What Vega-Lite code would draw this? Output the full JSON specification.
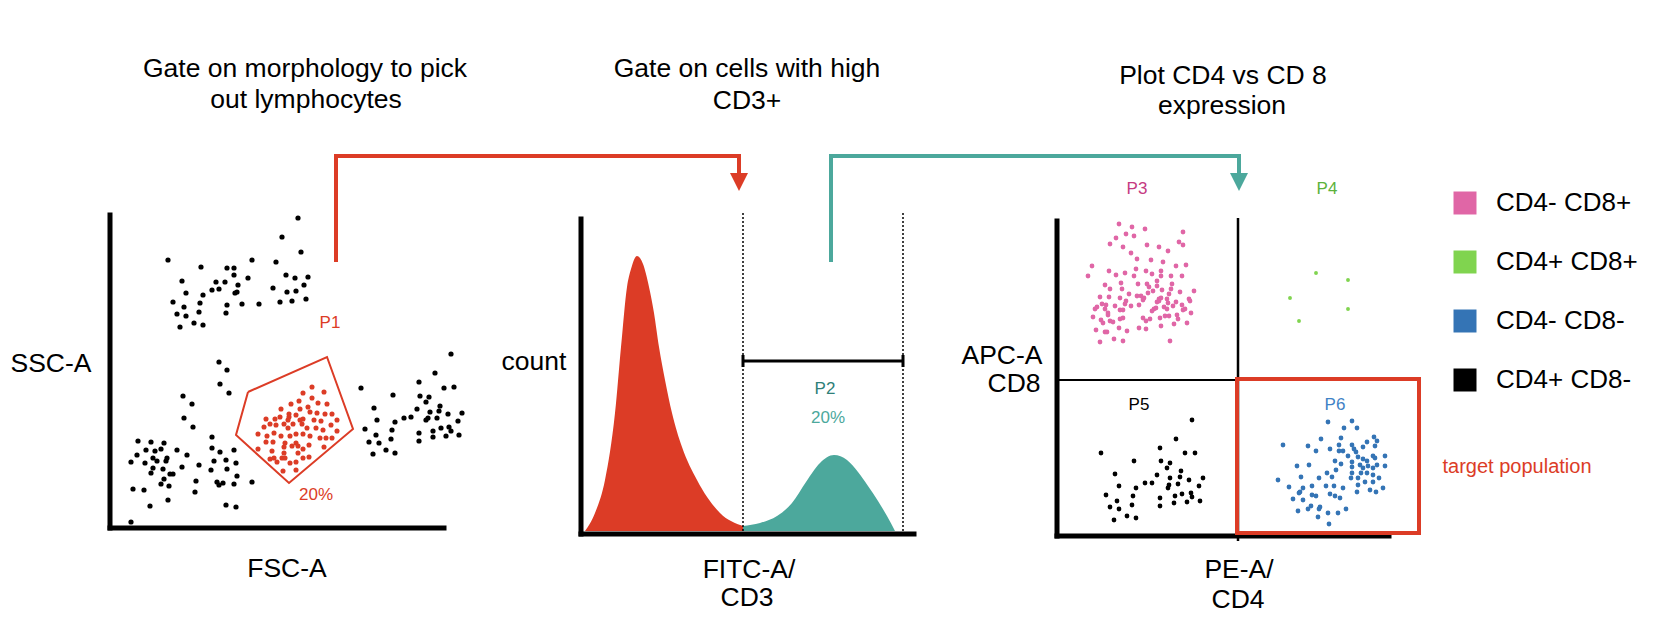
{
"$schema": "https://vega.github.io/schema/vega-lite/v6.json",
"width": 1658, "height": 626, "padding": 0,
"autosize": {"type": "fit", "contains": "padding"},
"config": {"view": {"stroke": null}, "font": "Liberation Sans",
  "legend": {"orient": "none", "legendX": 1452, "legendY": 190, "title": null, "symbolType": "square", "symbolSize": 529, "symbolStrokeWidth": 0, "symbolOpacity": 1, "labelFontSize": 26, "labelFont": "Liberation Sans", "labelColor": "#000000", "rowPadding": 33, "labelOffset": 18, "padding": 0}},
"encoding": {
  "x": {"field": "x", "type": "quantitative", "scale": {"domain": [0, 1658], "nice": false, "zero": false}, "axis": null},
  "y": {"field": "y", "type": "quantitative", "scale": {"domain": [0, 626], "reverse": true, "nice": false, "zero": false}, "axis": null}
},
"layer": [
{"data": {"values": [
 {"x":585,"y":531},{"x":595,"y":513},{"x":605,"y":480},{"x":615,"y":413},{"x":621,"y":347},{"x":627,"y":287},{"x":631,"y":269},{"x":637,"y":256},{"x":643,"y":264},{"x":649,"y":287},{"x":654,"y":313},{"x":659,"y":347},{"x":665,"y":380},{"x":672,"y":413},{"x":682,"y":447},{"x":697,"y":480},{"x":720,"y":513},{"x":743,"y":526}]},
 "mark": {"type": "area", "color": "#dc3c26", "interpolate": "monotone"},
 "encoding": {"y2": {"datum": 531}}},
{"data": {"values": [
 {"x":743,"y":526},{"x":760,"y":523},{"x":777,"y":516},{"x":792,"y":503},{"x":806,"y":482},{"x":820,"y":463},{"x":834,"y":455},{"x":847,"y":460},{"x":858,"y":472},{"x":868,"y":486},{"x":878,"y":501},{"x":887,"y":516},{"x":895,"y":531}]},
 "mark": {"type": "area", "color": "#4ca89c", "interpolate": "monotone"},
 "encoding": {"y2": {"datum": 531}}},
{"data": {"values": [
 {"x":110,"y":215,"x2":110,"y2":528},{"x":110,"y":528,"x2":444,"y2":528},
 {"x":581,"y":219,"x2":581,"y2":534},{"x":581,"y":534,"x2":914,"y2":534},
 {"x":1057,"y":221,"x2":1057,"y2":536},{"x":1057,"y":536,"x2":1389,"y2":536}]},
 "mark": {"type": "rule", "color": "#000000", "strokeWidth": 5, "strokeCap": "square"},
 "encoding": {"x2": {"field": "x2"}, "y2": {"field": "y2"}}},
{"data": {"values": [
 {"x":743,"y":213,"x2":743,"y2":532},{"x":903,"y":213,"x2":903,"y2":532}]},
 "mark": {"type": "rule", "color": "#000000", "strokeWidth": 1.5, "strokeDash": [2, 2]},
 "encoding": {"x2": {"field": "x2"}, "y2": {"field": "y2"}}},
{"data": {"values": [
 {"x":743,"y":361,"x2":903,"y2":361},{"x":743,"y":355,"x2":743,"y2":367},{"x":903,"y":355,"x2":903,"y2":367}]},
 "mark": {"type": "rule", "color": "#000000", "strokeWidth": 3},
 "encoding": {"x2": {"field": "x2"}, "y2": {"field": "y2"}}},
{"data": {"values": [
 {"x":1238,"y":218,"x2":1238,"y2":541}]},
 "mark": {"type": "rule", "color": "#000000", "strokeWidth": 2.5},
 "encoding": {"x2": {"field": "x2"}, "y2": {"field": "y2"}}},
{"data": {"values": [
 {"x":1057,"y":380,"x2":1238,"y2":380}]},
 "mark": {"type": "rule", "color": "#000000", "strokeWidth": 2},
 "encoding": {"x2": {"field": "x2"}, "y2": {"field": "y2"}}},
{"data": {"values": [{"x":1237,"y":379,"x2":1419,"y2":533}]},
 "mark": {"type": "rect", "filled": false, "color": "#dc3c26", "strokeWidth": 4},
 "encoding": {"x2": {"field": "x2"}, "y2": {"field": "y2"}}},
{"data": {"values": [
 {"x":248,"y":392,"o":1},{"x":327,"y":357,"o":2},{"x":353,"y":429,"o":3},{"x":289,"y":483,"o":4},{"x":236,"y":435,"o":5},{"x":248,"y":392,"o":6}]},
 "mark": {"type": "line", "color": "#dc3c26", "strokeWidth": 2, "strokeJoin": "miter"},
 "encoding": {"order": {"field": "o", "type": "quantitative"}}},
{"data": {"values": [
 {"x":336,"y":262,"o":1},{"x":336,"y":156,"o":2},{"x":739,"y":156,"o":3},{"x":739,"y":175,"o":4}]},
 "mark": {"type": "line", "color": "#dc3c26", "strokeWidth": 4, "strokeJoin": "miter"},
 "encoding": {"order": {"field": "o", "type": "quantitative"}}},
{"data": {"values": [
 {"x":831,"y":262,"o":1},{"x":831,"y":156,"o":2},{"x":1239,"y":156,"o":3},{"x":1239,"y":175,"o":4}]},
 "mark": {"type": "line", "color": "#4ca89c", "strokeWidth": 4, "strokeJoin": "miter"},
 "encoding": {"order": {"field": "o", "type": "quantitative"}}},
{"data": {"values": [{"x":739,"y":182}]},
 "mark": {"type": "point", "shape": "M-1,-1L1,-1L0,1Z", "size": 324, "filled": true, "opacity": 1, "color": "#dc3c26"}},
{"data": {"values": [{"x":1239,"y":182}]},
 "mark": {"type": "point", "shape": "M-1,-1L1,-1L0,1Z", "size": 324, "filled": true, "opacity": 1, "color": "#4ca89c"}},
{"data": {"values": [
 {"x":168,"y":260},{"x":201,"y":267},{"x":182,"y":281},{"x":186,"y":293},{"x":173,"y":302},{"x":184,"y":307},{"x":177,"y":314},{"x":186,"y":316},{"x":180,"y":327},{"x":194,"y":323},{"x":203,"y":325},{"x":199,"y":312},{"x":200,"y":303},{"x":203,"y":295},{"x":212,"y":290},{"x":216,"y":282},{"x":219,"y":289},{"x":225,"y":282},{"x":227,"y":268},{"x":234,"y":268},{"x":234,"y":275},{"x":238,"y":285},{"x":237,"y":292},{"x":235,"y":293},{"x":227,"y":305},{"x":226,"y":313},{"x":242,"y":304},{"x":248,"y":278},{"x":252,"y":260},{"x":259,"y":304},{"x":276,"y":262},{"x":273,"y":288},{"x":280,"y":302},{"x":286,"y":275},{"x":287,"y":292},{"x":292,"y":301},{"x":295,"y":278},{"x":296,"y":291},{"x":304,"y":285},{"x":306,"y":299},{"x":308,"y":277},{"x":282,"y":237},{"x":298,"y":218},{"x":301,"y":252},
 {"x":138,"y":441},{"x":151,"y":442},{"x":164,"y":443},{"x":146,"y":450},{"x":155,"y":451},{"x":161,"y":449},{"x":177,"y":450},{"x":137,"y":455},{"x":187,"y":455},{"x":131,"y":462},{"x":145,"y":463},{"x":153,"y":458},{"x":157,"y":461},{"x":167,"y":458},{"x":166,"y":461},{"x":153,"y":468},{"x":163,"y":469},{"x":182,"y":467},{"x":151,"y":473},{"x":173,"y":474},{"x":170,"y":474},{"x":164,"y":479},{"x":161,"y":484},{"x":169,"y":486},{"x":133,"y":489},{"x":144,"y":490},{"x":168,"y":500},{"x":150,"y":506},{"x":131,"y":522},
 {"x":183,"y":396},{"x":192,"y":404},{"x":184,"y":418},{"x":193,"y":427},{"x":219,"y":362},{"x":227,"y":370},{"x":220,"y":384},{"x":229,"y":393},{"x":212,"y":437},{"x":212,"y":448},{"x":220,"y":452},{"x":234,"y":450},{"x":214,"y":461},{"x":226,"y":460},{"x":236,"y":463},{"x":199,"y":465},{"x":211,"y":470},{"x":227,"y":469},{"x":237,"y":476},{"x":196,"y":481},{"x":217,"y":482},{"x":219,"y":485},{"x":223,"y":483},{"x":234,"y":484},{"x":252,"y":482},{"x":195,"y":492},{"x":226,"y":505},{"x":236,"y":507},
 {"x":361,"y":388},{"x":374,"y":408},{"x":393,"y":395},{"x":377,"y":420},{"x":365,"y":429},{"x":395,"y":422},{"x":392,"y":430},{"x":376,"y":435},{"x":369,"y":442},{"x":379,"y":443},{"x":391,"y":439},{"x":373,"y":454},{"x":386,"y":450},{"x":395,"y":453},{"x":404,"y":418},{"x":411,"y":417},{"x":417,"y":409},{"x":419,"y":382},{"x":420,"y":396},{"x":426,"y":402},{"x":429,"y":397},{"x":430,"y":412},{"x":426,"y":420},{"x":428,"y":418},{"x":419,"y":433},{"x":419,"y":441},{"x":433,"y":431},{"x":433,"y":437},{"x":437,"y":418},{"x":439,"y":411},{"x":440,"y":406},{"x":441,"y":428},{"x":435,"y":373},{"x":444,"y":388},{"x":451,"y":354},{"x":454,"y":387},{"x":448,"y":414},{"x":449,"y":427},{"x":451,"y":431},{"x":446,"y":436},{"x":458,"y":421},{"x":459,"y":435},{"x":462,"y":413}]},
 "mark": {"type": "point", "filled": true, "opacity": 1, "size": 27, "color": "#000000"}},
{"data": {"values": [
 {"x":312,"y":387},{"x":324,"y":392},{"x":303,"y":393},{"x":312,"y":398},{"x":299,"y":401},{"x":291,"y":404},{"x":318,"y":403},{"x":327,"y":404},{"x":308,"y":407},{"x":300,"y":409},{"x":281,"y":409},{"x":310,"y":412},{"x":317,"y":413},{"x":289,"y":414},{"x":296,"y":415},{"x":325,"y":414},{"x":332,"y":414},{"x":280,"y":417},{"x":289,"y":417},{"x":303,"y":419},{"x":266,"y":419},{"x":275,"y":419},{"x":288,"y":420},{"x":300,"y":420},{"x":314,"y":420},{"x":337,"y":420},{"x":270,"y":424},{"x":284,"y":424},{"x":293,"y":424},{"x":302,"y":424},{"x":321,"y":421},{"x":331,"y":425},{"x":264,"y":427},{"x":276,"y":425},{"x":288,"y":428},{"x":307,"y":428},{"x":316,"y":428},{"x":323,"y":430},{"x":337,"y":431},{"x":258,"y":434},{"x":267,"y":436},{"x":274,"y":433},{"x":281,"y":436},{"x":290,"y":436},{"x":296,"y":434},{"x":303,"y":434},{"x":310,"y":436},{"x":320,"y":438},{"x":326,"y":438},{"x":332,"y":438},{"x":266,"y":442},{"x":273,"y":442},{"x":285,"y":443},{"x":296,"y":443},{"x":284,"y":447},{"x":292,"y":446},{"x":298,"y":446},{"x":309,"y":445},{"x":324,"y":447},{"x":258,"y":449},{"x":272,"y":451},{"x":284,"y":453},{"x":298,"y":453},{"x":303,"y":449},{"x":270,"y":459},{"x":274,"y":458},{"x":282,"y":458},{"x":285,"y":458},{"x":290,"y":463},{"x":296,"y":462},{"x":303,"y":458},{"x":309,"y":457},{"x":283,"y":471},{"x":296,"y":470},{"x":277,"y":462}]},
 "mark": {"type": "point", "filled": true, "opacity": 1, "size": 26, "color": "#dc3c26"}},
{"data": {"values": [
 {"x":1119,"y":224,"p":"CD4- CD8+"},{"x":1132,"y":227,"p":"CD4- CD8+"},{"x":1145,"y":229,"p":"CD4- CD8+"},{"x":1126,"y":234,"p":"CD4- CD8+"},{"x":1134,"y":236,"p":"CD4- CD8+"},{"x":1116,"y":238,"p":"CD4- CD8+"},{"x":1183,"y":232,"p":"CD4- CD8+"},{"x":1179,"y":242,"p":"CD4- CD8+"},{"x":1183,"y":245,"p":"CD4- CD8+"},{"x":1110,"y":244,"p":"CD4- CD8+"},{"x":1123,"y":247,"p":"CD4- CD8+"},{"x":1147,"y":245,"p":"CD4- CD8+"},{"x":1159,"y":247,"p":"CD4- CD8+"},{"x":1168,"y":251,"p":"CD4- CD8+"},{"x":1131,"y":253,"p":"CD4- CD8+"},{"x":1137,"y":259,"p":"CD4- CD8+"},{"x":1151,"y":260,"p":"CD4- CD8+"},{"x":1163,"y":262,"p":"CD4- CD8+"},{"x":1092,"y":266,"p":"CD4- CD8+"},{"x":1088,"y":276,"p":"CD4- CD8+"},{"x":1109,"y":271,"p":"CD4- CD8+"},{"x":1116,"y":275,"p":"CD4- CD8+"},{"x":1125,"y":273,"p":"CD4- CD8+"},{"x":1134,"y":276,"p":"CD4- CD8+"},{"x":1136,"y":269,"p":"CD4- CD8+"},{"x":1146,"y":271,"p":"CD4- CD8+"},{"x":1152,"y":274,"p":"CD4- CD8+"},{"x":1161,"y":271,"p":"CD4- CD8+"},{"x":1161,"y":276,"p":"CD4- CD8+"},{"x":1176,"y":266,"p":"CD4- CD8+"},{"x":1186,"y":265,"p":"CD4- CD8+"},{"x":1171,"y":276,"p":"CD4- CD8+"},{"x":1182,"y":276,"p":"CD4- CD8+"},{"x":1105,"y":285,"p":"CD4- CD8+"},{"x":1110,"y":289,"p":"CD4- CD8+"},{"x":1121,"y":283,"p":"CD4- CD8+"},{"x":1122,"y":289,"p":"CD4- CD8+"},{"x":1138,"y":284,"p":"CD4- CD8+"},{"x":1147,"y":284,"p":"CD4- CD8+"},{"x":1149,"y":287,"p":"CD4- CD8+"},{"x":1157,"y":281,"p":"CD4- CD8+"},{"x":1157,"y":286,"p":"CD4- CD8+"},{"x":1153,"y":291,"p":"CD4- CD8+"},{"x":1162,"y":290,"p":"CD4- CD8+"},{"x":1172,"y":284,"p":"CD4- CD8+"},{"x":1171,"y":289,"p":"CD4- CD8+"},{"x":1100,"y":297,"p":"CD4- CD8+"},{"x":1109,"y":297,"p":"CD4- CD8+"},{"x":1120,"y":298,"p":"CD4- CD8+"},{"x":1129,"y":294,"p":"CD4- CD8+"},{"x":1137,"y":296,"p":"CD4- CD8+"},{"x":1141,"y":296,"p":"CD4- CD8+"},{"x":1144,"y":298,"p":"CD4- CD8+"},{"x":1148,"y":293,"p":"CD4- CD8+"},{"x":1159,"y":299,"p":"CD4- CD8+"},{"x":1161,"y":298,"p":"CD4- CD8+"},{"x":1167,"y":299,"p":"CD4- CD8+"},{"x":1169,"y":294,"p":"CD4- CD8+"},{"x":1180,"y":292,"p":"CD4- CD8+"},{"x":1189,"y":299,"p":"CD4- CD8+"},{"x":1194,"y":291,"p":"CD4- CD8+"},{"x":1102,"y":304,"p":"CD4- CD8+"},{"x":1106,"y":305,"p":"CD4- CD8+"},{"x":1097,"y":307,"p":"CD4- CD8+"},{"x":1095,"y":309,"p":"CD4- CD8+"},{"x":1105,"y":309,"p":"CD4- CD8+"},{"x":1115,"y":306,"p":"CD4- CD8+"},{"x":1126,"y":301,"p":"CD4- CD8+"},{"x":1125,"y":304,"p":"CD4- CD8+"},{"x":1131,"y":306,"p":"CD4- CD8+"},{"x":1139,"y":305,"p":"CD4- CD8+"},{"x":1143,"y":300,"p":"CD4- CD8+"},{"x":1157,"y":302,"p":"CD4- CD8+"},{"x":1159,"y":301,"p":"CD4- CD8+"},{"x":1168,"y":303,"p":"CD4- CD8+"},{"x":1176,"y":302,"p":"CD4- CD8+"},{"x":1190,"y":301,"p":"CD4- CD8+"},{"x":1120,"y":310,"p":"CD4- CD8+"},{"x":1123,"y":310,"p":"CD4- CD8+"},{"x":1108,"y":313,"p":"CD4- CD8+"},{"x":1108,"y":315,"p":"CD4- CD8+"},{"x":1154,"y":309,"p":"CD4- CD8+"},{"x":1152,"y":311,"p":"CD4- CD8+"},{"x":1156,"y":308,"p":"CD4- CD8+"},{"x":1164,"y":307,"p":"CD4- CD8+"},{"x":1167,"y":309,"p":"CD4- CD8+"},{"x":1173,"y":306,"p":"CD4- CD8+"},{"x":1182,"y":305,"p":"CD4- CD8+"},{"x":1183,"y":310,"p":"CD4- CD8+"},{"x":1185,"y":309,"p":"CD4- CD8+"},{"x":1093,"y":317,"p":"CD4- CD8+"},{"x":1101,"y":320,"p":"CD4- CD8+"},{"x":1103,"y":323,"p":"CD4- CD8+"},{"x":1110,"y":321,"p":"CD4- CD8+"},{"x":1113,"y":322,"p":"CD4- CD8+"},{"x":1120,"y":319,"p":"CD4- CD8+"},{"x":1123,"y":318,"p":"CD4- CD8+"},{"x":1143,"y":318,"p":"CD4- CD8+"},{"x":1146,"y":321,"p":"CD4- CD8+"},{"x":1150,"y":319,"p":"CD4- CD8+"},{"x":1160,"y":318,"p":"CD4- CD8+"},{"x":1165,"y":316,"p":"CD4- CD8+"},{"x":1169,"y":316,"p":"CD4- CD8+"},{"x":1177,"y":315,"p":"CD4- CD8+"},{"x":1178,"y":319,"p":"CD4- CD8+"},{"x":1191,"y":313,"p":"CD4- CD8+"},{"x":1096,"y":330,"p":"CD4- CD8+"},{"x":1105,"y":332,"p":"CD4- CD8+"},{"x":1107,"y":332,"p":"CD4- CD8+"},{"x":1119,"y":328,"p":"CD4- CD8+"},{"x":1127,"y":331,"p":"CD4- CD8+"},{"x":1139,"y":328,"p":"CD4- CD8+"},{"x":1146,"y":329,"p":"CD4- CD8+"},{"x":1161,"y":326,"p":"CD4- CD8+"},{"x":1174,"y":324,"p":"CD4- CD8+"},{"x":1187,"y":323,"p":"CD4- CD8+"},{"x":1100,"y":342,"p":"CD4- CD8+"},{"x":1114,"y":339,"p":"CD4- CD8+"},{"x":1123,"y":341,"p":"CD4- CD8+"},{"x":1170,"y":341,"p":"CD4- CD8+"},
 {"x":1101,"y":453,"p":"CD4+ CD8-"},{"x":1192,"y":420,"p":"CD4+ CD8-"},{"x":1176,"y":439,"p":"CD4+ CD8-"},{"x":1160,"y":448,"p":"CD4+ CD8-"},{"x":1134,"y":461,"p":"CD4+ CD8-"},{"x":1185,"y":453,"p":"CD4+ CD8-"},{"x":1195,"y":453,"p":"CD4+ CD8-"},{"x":1115,"y":474,"p":"CD4+ CD8-"},{"x":1161,"y":461,"p":"CD4+ CD8-"},{"x":1170,"y":463,"p":"CD4+ CD8-"},{"x":1167,"y":468,"p":"CD4+ CD8-"},{"x":1157,"y":475,"p":"CD4+ CD8-"},{"x":1181,"y":471,"p":"CD4+ CD8-"},{"x":1170,"y":478,"p":"CD4+ CD8-"},{"x":1180,"y":477,"p":"CD4+ CD8-"},{"x":1203,"y":478,"p":"CD4+ CD8-"},{"x":1189,"y":480,"p":"CD4+ CD8-"},{"x":1119,"y":486,"p":"CD4+ CD8-"},{"x":1136,"y":488,"p":"CD4+ CD8-"},{"x":1145,"y":483,"p":"CD4+ CD8-"},{"x":1152,"y":483,"p":"CD4+ CD8-"},{"x":1169,"y":485,"p":"CD4+ CD8-"},{"x":1168,"y":488,"p":"CD4+ CD8-"},{"x":1178,"y":484,"p":"CD4+ CD8-"},{"x":1199,"y":486,"p":"CD4+ CD8-"},{"x":1106,"y":495,"p":"CD4+ CD8-"},{"x":1133,"y":496,"p":"CD4+ CD8-"},{"x":1175,"y":496,"p":"CD4+ CD8-"},{"x":1182,"y":494,"p":"CD4+ CD8-"},{"x":1191,"y":493,"p":"CD4+ CD8-"},{"x":1192,"y":497,"p":"CD4+ CD8-"},{"x":1117,"y":501,"p":"CD4+ CD8-"},{"x":1160,"y":498,"p":"CD4+ CD8-"},{"x":1187,"y":502,"p":"CD4+ CD8-"},{"x":1200,"y":501,"p":"CD4+ CD8-"},{"x":1110,"y":507,"p":"CD4+ CD8-"},{"x":1119,"y":509,"p":"CD4+ CD8-"},{"x":1132,"y":505,"p":"CD4+ CD8-"},{"x":1160,"y":506,"p":"CD4+ CD8-"},{"x":1174,"y":503,"p":"CD4+ CD8-"},{"x":1127,"y":516,"p":"CD4+ CD8-"},{"x":1136,"y":518,"p":"CD4+ CD8-"},{"x":1114,"y":520,"p":"CD4+ CD8-"},
 {"x":1328,"y":422,"p":"CD4- CD8-"},{"x":1352,"y":421,"p":"CD4- CD8-"},{"x":1344,"y":428,"p":"CD4- CD8-"},{"x":1357,"y":428,"p":"CD4- CD8-"},{"x":1321,"y":439,"p":"CD4- CD8-"},{"x":1341,"y":438,"p":"CD4- CD8-"},{"x":1283,"y":445,"p":"CD4- CD8-"},{"x":1308,"y":446,"p":"CD4- CD8-"},{"x":1316,"y":451,"p":"CD4- CD8-"},{"x":1330,"y":449,"p":"CD4- CD8-"},{"x":1339,"y":445,"p":"CD4- CD8-"},{"x":1339,"y":451,"p":"CD4- CD8-"},{"x":1343,"y":451,"p":"CD4- CD8-"},{"x":1352,"y":445,"p":"CD4- CD8-"},{"x":1354,"y":449,"p":"CD4- CD8-"},{"x":1363,"y":447,"p":"CD4- CD8-"},{"x":1367,"y":442,"p":"CD4- CD8-"},{"x":1374,"y":437,"p":"CD4- CD8-"},{"x":1377,"y":441,"p":"CD4- CD8-"},{"x":1375,"y":446,"p":"CD4- CD8-"},{"x":1348,"y":456,"p":"CD4- CD8-"},{"x":1356,"y":452,"p":"CD4- CD8-"},{"x":1358,"y":457,"p":"CD4- CD8-"},{"x":1363,"y":459,"p":"CD4- CD8-"},{"x":1367,"y":461,"p":"CD4- CD8-"},{"x":1373,"y":456,"p":"CD4- CD8-"},{"x":1375,"y":458,"p":"CD4- CD8-"},{"x":1385,"y":456,"p":"CD4- CD8-"},{"x":1335,"y":461,"p":"CD4- CD8-"},{"x":1341,"y":464,"p":"CD4- CD8-"},{"x":1352,"y":462,"p":"CD4- CD8-"},{"x":1352,"y":467,"p":"CD4- CD8-"},{"x":1360,"y":465,"p":"CD4- CD8-"},{"x":1363,"y":468,"p":"CD4- CD8-"},{"x":1368,"y":466,"p":"CD4- CD8-"},{"x":1373,"y":468,"p":"CD4- CD8-"},{"x":1377,"y":465,"p":"CD4- CD8-"},{"x":1385,"y":466,"p":"CD4- CD8-"},{"x":1297,"y":466,"p":"CD4- CD8-"},{"x":1309,"y":465,"p":"CD4- CD8-"},{"x":1336,"y":470,"p":"CD4- CD8-"},{"x":1332,"y":477,"p":"CD4- CD8-"},{"x":1327,"y":473,"p":"CD4- CD8-"},{"x":1352,"y":473,"p":"CD4- CD8-"},{"x":1351,"y":478,"p":"CD4- CD8-"},{"x":1361,"y":473,"p":"CD4- CD8-"},{"x":1367,"y":473,"p":"CD4- CD8-"},{"x":1358,"y":478,"p":"CD4- CD8-"},{"x":1373,"y":475,"p":"CD4- CD8-"},{"x":1379,"y":478,"p":"CD4- CD8-"},{"x":1301,"y":477,"p":"CD4- CD8-"},{"x":1319,"y":478,"p":"CD4- CD8-"},{"x":1278,"y":480,"p":"CD4- CD8-"},{"x":1373,"y":482,"p":"CD4- CD8-"},{"x":1365,"y":482,"p":"CD4- CD8-"},{"x":1358,"y":485,"p":"CD4- CD8-"},{"x":1357,"y":492,"p":"CD4- CD8-"},{"x":1370,"y":490,"p":"CD4- CD8-"},{"x":1376,"y":492,"p":"CD4- CD8-"},{"x":1383,"y":488,"p":"CD4- CD8-"},{"x":1289,"y":487,"p":"CD4- CD8-"},{"x":1303,"y":488,"p":"CD4- CD8-"},{"x":1300,"y":492,"p":"CD4- CD8-"},{"x":1312,"y":486,"p":"CD4- CD8-"},{"x":1326,"y":486,"p":"CD4- CD8-"},{"x":1334,"y":486,"p":"CD4- CD8-"},{"x":1343,"y":488,"p":"CD4- CD8-"},{"x":1299,"y":493,"p":"CD4- CD8-"},{"x":1312,"y":495,"p":"CD4- CD8-"},{"x":1316,"y":496,"p":"CD4- CD8-"},{"x":1330,"y":494,"p":"CD4- CD8-"},{"x":1335,"y":496,"p":"CD4- CD8-"},{"x":1293,"y":499,"p":"CD4- CD8-"},{"x":1303,"y":500,"p":"CD4- CD8-"},{"x":1311,"y":506,"p":"CD4- CD8-"},{"x":1320,"y":507,"p":"CD4- CD8-"},{"x":1319,"y":509,"p":"CD4- CD8-"},{"x":1308,"y":509,"p":"CD4- CD8-"},{"x":1298,"y":511,"p":"CD4- CD8-"},{"x":1328,"y":513,"p":"CD4- CD8-"},{"x":1338,"y":513,"p":"CD4- CD8-"},{"x":1346,"y":509,"p":"CD4- CD8-"},{"x":1318,"y":517,"p":"CD4- CD8-"},{"x":1329,"y":524,"p":"CD4- CD8-"},{"x":1340,"y":498,"p":"CD4- CD8-"}]},
 "mark": {"type": "point", "filled": true, "opacity": 1, "size": 23},
 "encoding": {"color": {"field": "p", "type": "nominal", "scale": {"domain": ["CD4- CD8+", "CD4+ CD8+", "CD4- CD8-", "CD4+ CD8-"], "range": ["#e066a6", "#80d44f", "#3474b5", "#000000"]}}}},
{"data": {"values": [
 {"x":1316,"y":273,"p":"CD4+ CD8+"},{"x":1348,"y":280,"p":"CD4+ CD8+"},{"x":1290,"y":298,"p":"CD4+ CD8+"},{"x":1348,"y":309,"p":"CD4+ CD8+"},{"x":1299,"y":321,"p":"CD4+ CD8+"}]},
 "mark": {"type": "point", "filled": true, "opacity": 1, "size": 15},
 "encoding": {"color": {"field": "p", "type": "nominal", "scale": {"domain": ["CD4- CD8+", "CD4+ CD8+", "CD4- CD8-", "CD4+ CD8-"], "range": ["#e066a6", "#5cb83a", "#3474b5", "#000000"]}}}},
{"data": {"values": [
 {"x":305,"y":77,"t":"Gate on morphology to pick"},{"x":306,"y":108,"t":"out lymphocytes"},
 {"x":747,"y":77,"t":"Gate on cells with high"},{"x":747,"y":109,"t":"CD3+"},
 {"x":1223,"y":84,"t":"Plot CD4 vs CD 8"},{"x":1222,"y":114,"t":"expression"},
 {"x":51,"y":372,"t":"SSC-A"},{"x":287,"y":577,"t":"FSC-A"},{"x":534,"y":370,"t":"count"},
 {"x":749,"y":578,"t":"FITC-A/"},{"x":747,"y":606,"t":"CD3"},
 {"x":1239,"y":578,"t":"PE-A/"},{"x":1238,"y":608,"t":"CD4"},
 {"x":1002,"y":364,"t":"APC-A"},{"x":1014,"y":392,"t":"CD8"}]},
 "mark": {"type": "text", "fontSize": 26.5, "align": "center", "baseline": "alphabetic", "color": "#000000"},
 "encoding": {"text": {"field": "t"}}},
{"data": {"values": [{"x":330,"y":328,"t":"P1"},{"x":316,"y":500,"t":"20%"}]},
 "mark": {"type": "text", "fontSize": 17, "align": "center", "baseline": "alphabetic", "color": "#dc3c26"},
 "encoding": {"text": {"field": "t"}}},
{"data": {"values": [{"x":1517,"y":473,"t":"target population"}]},
 "mark": {"type": "text", "fontSize": 20, "align": "center", "baseline": "alphabetic", "color": "#dc3c26"},
 "encoding": {"text": {"field": "t"}}},
{"data": {"values": [{"x":825,"y":394,"t":"P2"}]},
 "mark": {"type": "text", "fontSize": 17, "align": "center", "baseline": "alphabetic", "color": "#2f7f79"},
 "encoding": {"text": {"field": "t"}}},
{"data": {"values": [{"x":828,"y":423,"t":"20%"}]},
 "mark": {"type": "text", "fontSize": 17, "align": "center", "baseline": "alphabetic", "color": "#4ca89c"},
 "encoding": {"text": {"field": "t"}}},
{"data": {"values": [{"x":1137,"y":194,"t":"P3"}]},
 "mark": {"type": "text", "fontSize": 17, "align": "center", "baseline": "alphabetic", "color": "#c53a82"},
 "encoding": {"text": {"field": "t"}}},
{"data": {"values": [{"x":1327,"y":194,"t":"P4"}]},
 "mark": {"type": "text", "fontSize": 17, "align": "center", "baseline": "alphabetic", "color": "#5cb23b"},
 "encoding": {"text": {"field": "t"}}},
{"data": {"values": [{"x":1139,"y":410,"t":"P5"}]},
 "mark": {"type": "text", "fontSize": 17, "align": "center", "baseline": "alphabetic", "color": "#000000"},
 "encoding": {"text": {"field": "t"}}},
{"data": {"values": [{"x":1335,"y":410,"t":"P6"}]},
 "mark": {"type": "text", "fontSize": 17, "align": "center", "baseline": "alphabetic", "color": "#3f82c6"},
 "encoding": {"text": {"field": "t"}}}
]
}
